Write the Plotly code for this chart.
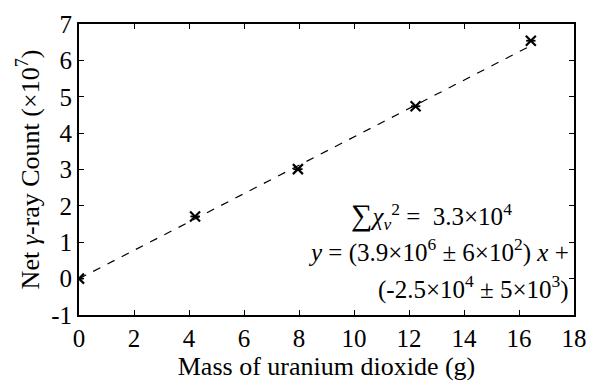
import plotly.graph_objects as go

mass = [0.0, 4.22, 7.96, 12.24, 16.43]
counts = [0.0, 1.71, 3.01, 4.74, 6.54]   # x10^7
mass_err = [0.17, 0.17, 0.17, 0.17, 0.17]
slope = 0.39      # x10^7 per g
intercept = -0.0025
x_ticks = [0, 2, 4, 6, 8, 10, 12, 14, 16, 18]
y_ticks = [-1, 0, 1, 2, 3, 4, 5, 6, 7]
y_ticklabels = ["-1", "0", "1", "2", "3", "4", "5", "6", "7"]

font = "Liberation Serif"

fit_x = [min(mass), max(mass)]
fit_y = [slope * v + intercept for v in fit_x]

fig = go.Figure()
fig.add_trace(go.Scatter(x=fit_x, y=fit_y, mode="lines",
                         line=dict(color="black", width=1.2, dash="8px,8px"),
                         showlegend=False, hoverinfo="skip"))
fig.add_trace(go.Scatter(x=mass, y=counts, mode="markers",
                         marker=dict(symbol="x-thin-open", size=10, color="black",
                                     line=dict(color="black", width=2.2)),
                         error_x=dict(type="data", array=mass_err, color="black",
                                      thickness=1.8, width=0),
                         showlegend=False))

ann_font = dict(family=font, size=25, color="black")
fig.add_annotation(x=12.8, y=1.72, xref="x", yref="y", showarrow=False,
                   xanchor="center", yanchor="middle", font=ann_font,
                   text="<span style='font-size:30px'>∑</span><i>χ</i><sub><i>v</i></sub><sup>2</sup> =  3.3×10<sup>4</sup>")
fig.add_annotation(x=17.9, y=0.76, xref="x", yref="y", showarrow=False,
                   xanchor="right", yanchor="middle", font=ann_font,
                   text="<i>y</i> = (3.9×10<sup>6</sup> ± 6×10<sup>2</sup>) <i>x</i> +")
fig.add_annotation(x=17.9, y=-0.24, xref="x", yref="y", showarrow=False,
                   xanchor="right", yanchor="middle", font=ann_font,
                   text="(-2.5×10<sup>4</sup> ± 5×10<sup>3</sup>)")

axis_common = dict(showgrid=False, zeroline=False, showline=True, linecolor="black",
                   linewidth=2, mirror="ticks", ticks="inside", ticklen=5,
                   tickwidth=1.2, tickcolor="black", ticklabeloverflow="allow",
                   tickfont=dict(family=font, size=25, color="black"))

fig.update_xaxes(range=[0, 18], tickvals=x_ticks,
                 title=dict(text="Mass of uranium dioxide (g)",
                            font=dict(family=font, size=26, color="black"), standoff=6),
                 **axis_common)
fig.update_yaxes(range=[-1, 7], tickvals=y_ticks, ticktext=y_ticklabels,
                 title=dict(text="Net <i>γ</i>-ray Count (×10<sup>7</sup>)",
                            font=dict(family=font, size=26, color="black"), standoff=4),
                 **axis_common)

fig.update_layout(width=598, height=387, margin=dict(l=79, r=11, t=12, b=70),
                  plot_bgcolor="white", paper_bgcolor="white",
                  font=dict(family=font, color="black"))

fig.write_html("out.html")
